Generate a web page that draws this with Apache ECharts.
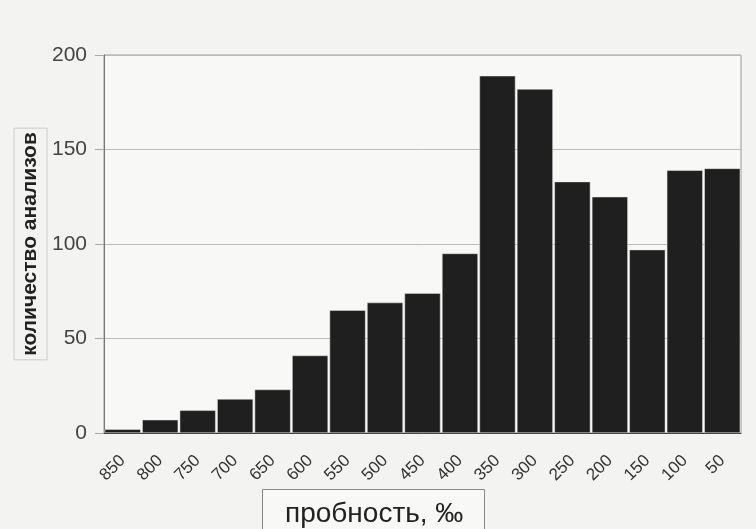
<!DOCTYPE html>
<html>
<head>
<meta charset="utf-8">
<script src="https://cdn.jsdelivr.net/npm/echarts@6/dist/echarts.min.js"></script>
<style>
  html, body { margin: 0; padding: 0; background: #f3f3f1; }
  #chart { width: 756px; height: 529px; }
</style>
</head>
<body>
<div id="chart"></div>
<script>
// пробность, ‰ (от высокой к низкой)
var probnost = ['850','800','750','700','650','600','550','500','450','400','350','300','250','200','150','100','50'];
// количество анализов
var counts = [2, 7, 12, 18, 23, 41, 65, 69, 74, 95, 189, 182, 133, 125, 97, 139, 140];
var yTicks = { min: 0, max: 200, step: 50 };

var myChart = echarts.init(document.getElementById('chart'));

var font = '"Liberation Sans", Arial, sans-serif';

const option = {
    backgroundColor: '#f3f3f1',
    animation: false,
    title: {
        text: 'пробность, ‰',
        left: 262,
        top: 489,
        padding: [11, 21, 14, 23],
        borderColor: '#888',
        borderWidth: 1,
        backgroundColor: '#f8f8f6',
        textStyle: {
            fontFamily: font,
            fontSize: 28,
            fontWeight: 'normal',
            color: '#222'
        }
    },
    grid: {
        left: 104,
        right: 15,
        top: 55,
        bottom: 96,
        show: true,
        backgroundColor: '#f8f8f7',
        borderColor: '#999',
        borderWidth: 1
    },
    xAxis: {
        type: 'category',
        data: probnost,
        axisTick: { show: false },
        axisLine: { lineStyle: { color: '#333', width: 1 } },
        axisLabel: {
            rotate: 45,
            margin: 25,
            fontFamily: font,
            fontSize: 17,
            color: '#333'
        }
    },
    yAxis: {
        type: 'value',
        min: yTicks.min,
        max: yTicks.max,
        interval: yTicks.step,
        name: 'количество анализов',
        nameLocation: 'middle',
        nameRotate: 90,
        nameGap: 57,
        nameMoveOverlap: false,
        nameTextStyle: {
            fontFamily: font,
            fontSize: 21,
            fontWeight: 'bold',
            color: '#222',
            borderColor: '#ccc',
            borderWidth: 1,
            padding: [6, 4, 6, 4]
        },
        axisLine: { show: true, lineStyle: { color: '#777' } },
        axisTick: { show: true, length: 9, lineStyle: { color: '#aaa' } },
        splitLine: { lineStyle: { color: '#bbb' } },
        axisLabel: {
            margin: 17,
            fontFamily: font,
            fontSize: 21,
            color: '#444'
        }
    },
    series: [
        {
            type: 'bar',
            data: counts,
            barCategoryGap: '4%',
            itemStyle: {
                color: '#1f1f1f',
                borderColor: '#e8e8e8',
                borderWidth: 0.5
            }
        }
    ]
};

myChart.setOption(option);
</script>
</body>
</html>
